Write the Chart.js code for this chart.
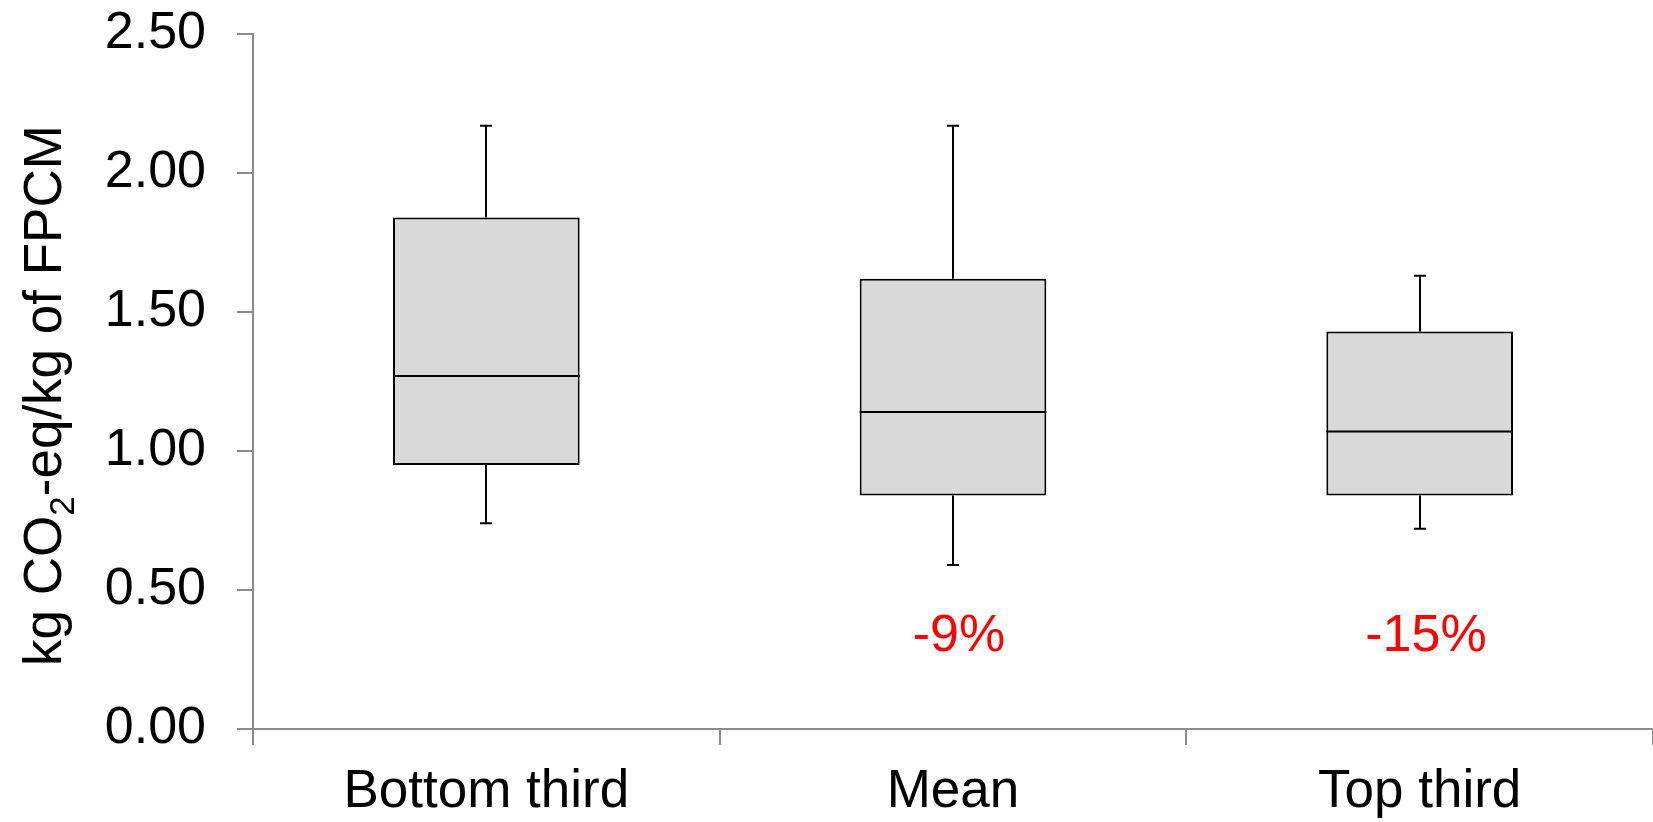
<!DOCTYPE html>
<html lang="en">
<head>
<meta charset="UTF-8" />
<title>kg CO2-eq/kg of FPCM</title>
<script src="https://cdn.jsdelivr.net/npm/chart.js"></script>
<style>
  html, body { margin: 0; padding: 0; background: #fff; }
  .wrap { width: 1653px; height: 822px; position: relative; }
</style>
</head>
<body>
<div class="wrap"><canvas id="boxChart"></canvas></div>
<script>
  const categories = ['Bottom third', 'Mean', 'Top third'];
  const whiskerLow = [0.74, 0.59, 0.72];
  const q1 = [0.95, 0.84, 0.84];
  const median = [1.27, 1.14, 1.07];
  const q3 = [1.84, 1.62, 1.43];
  const whiskerHigh = [2.17, 2.17, 1.63];
  const changeLabels = ['', '-9%', '-15%'];
  const yTicks = [0, 0.5, 1, 1.5, 2, 2.5];

  const FONT = "'Liberation Sans', Arial, sans-serif";
  const AXIS = '#8C8C8C';

  // whiskers, caps, medians and the red % labels
  const boxPlot = {
    id: 'boxPlot',
    afterDatasetsDraw(chart) {
      const { ctx, scales: { y } } = chart;
      const meta = chart.getDatasetMeta(0);
      ctx.save();
      ctx.strokeStyle = '#000';
      ctx.lineWidth = 2;
      categories.forEach((c, i) => {
        const bar = meta.data[i];
        const cx = Math.round(bar.x);
        const half = bar.width / 2;
        const yHi = y.getPixelForValue(whiskerHigh[i]);
        const yLo = y.getPixelForValue(whiskerLow[i]);
        const yMed = y.getPixelForValue(median[i]);
        ctx.beginPath();
        ctx.moveTo(cx, y.getPixelForValue(q3[i]));
        ctx.lineTo(cx, yHi);
        ctx.moveTo(cx - 6, yHi);
        ctx.lineTo(cx + 6, yHi);
        ctx.moveTo(cx, y.getPixelForValue(q1[i]));
        ctx.lineTo(cx, yLo);
        ctx.moveTo(cx - 6, yLo);
        ctx.lineTo(cx + 6, yLo);
        ctx.moveTo(bar.x - half, yMed);
        ctx.lineTo(bar.x + half, yMed);
        ctx.stroke();

        if (changeLabels[i]) {
          ctx.fillStyle = '#FF0000';
          ctx.font = '52px ' + FONT;
          ctx.textAlign = 'center';
          ctx.textBaseline = 'alphabetic';
          ctx.fillText(changeLabels[i], cx + 6, y.getPixelForValue(0.28));
        }
      });
      ctx.restore();
    }
  };

  // y title with a real subscript 2
  const yTitle = {
    id: 'yTitle',
    afterDraw(chart) {
      const { ctx, chartArea } = chart;
      const big = '53px ' + FONT, small = '35px ' + FONT;
      const parts = [['kg CO', big, 0], ['2', small, 13], ['-eq/kg of FPCM', big, 0]];
      ctx.save();
      let total = 0;
      parts.forEach(p => { ctx.font = p[1]; total += ctx.measureText(p[0]).width; });
      const cy = (chartArea.top + chartArea.bottom) / 2 + 14;
      ctx.translate(61, cy);
      ctx.rotate(-Math.PI / 2);
      ctx.fillStyle = '#000';
      ctx.textBaseline = 'alphabetic';
      ctx.textAlign = 'left';
      let x = -total / 2;
      parts.forEach(p => {
        ctx.font = p[1];
        ctx.fillText(p[0], x, p[2]);
        x += ctx.measureText(p[0]).width;
      });
      ctx.restore();
    }
  };

  new Chart(document.getElementById('boxChart'), {
    type: 'bar',
    data: {
      labels: categories,
      datasets: [{
        data: categories.map((c, i) => [q1[i], q3[i]]),
        backgroundColor: '#D9D9D9',
        borderColor: '#000',
        borderWidth: 2,
        borderSkipped: false,
        barPercentage: 0.4,
        categoryPercentage: 1
      }]
    },
    options: {
      responsive: true,
      maintainAspectRatio: false,
      animation: false,
      layout: { padding: { left: 0, top: 34, right: 0, bottom: 0 } },
      plugins: { legend: { display: false }, tooltip: { enabled: false } },
      scales: {
        x: {
          offset: true,
          grid: { offset: true, drawOnChartArea: false, tickLength: 16, color: AXIS, lineWidth: 2 },
          border: { color: AXIS, width: 2 },
          ticks: { color: '#000', font: { family: FONT, size: 53 }, padding: 16 },
          afterFit: s => { s.height = 93; s.paddingLeft = 0; s.paddingRight = 0; }
        },
        y: {
          min: 0,
          max: 2.5,
          afterBuildTicks: s => { s.ticks = yTicks.map(v => ({ value: v })); },
          grid: { drawOnChartArea: false, tickLength: 16, color: AXIS, lineWidth: 2 },
          border: { color: AXIS, width: 2 },
          ticks: {
            color: '#000',
            font: { family: FONT, size: 52 },
            padding: 31,
            callback: v => Number(v).toFixed(2)
          },
          afterFit: s => { s.width = 253; s.paddingTop = 0; s.paddingBottom = 0; }
        }
      }
    },
    plugins: [boxPlot, yTitle]
  });
</script>
</body>
</html>
